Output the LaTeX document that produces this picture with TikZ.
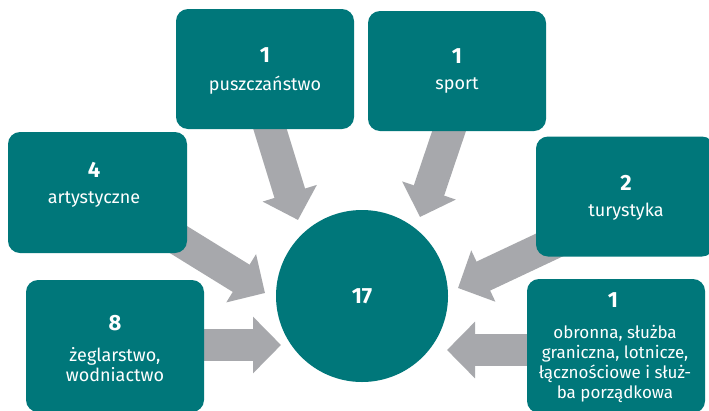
\documentclass[tikz,border=0pt]{standalone}
\usepackage{fontspec}
\setmainfont{Fira Sans}
\usetikzlibrary{arrows.meta}
\definecolor{tealbox}{HTML}{00777A}
\definecolor{arrowgray}{HTML}{A7A8AC}
\begin{document}
\begin{tikzpicture}[x=1pt,y=-1pt,
  box/.style={fill=tealbox, rounded corners=12pt, inner sep=0pt, minimum width=178pt, minimum height=120pt},
  bigarrow/.style={draw=arrowgray, line width=32pt, -{Triangle[width=55pt,length=28pt]}},
  num/.style={text=white, font=\fontsize{22}{24}\selectfont\bfseries},
  lab/.style={text=white, font=\fontsize{18}{20}\selectfont, align=center},
  labsmall/.style={text=white, font=\fontsize{17}{20}\selectfont, align=center}]
\clip (0,0) rectangle (709,410);
\fill[white] (0,0) rectangle (709,410);
% arrow ends
\coordinate (s1) at (254,77);   \coordinate (t1) at (298,220);
\coordinate (s2) at (468,75);   \coordinate (t2) at (420,217);
\coordinate (s3) at (137,214);  \coordinate (t3) at (265,293);
\coordinate (s4) at (594,224);  \coordinate (t4) at (458,288);
\coordinate (s5) at (150,345);  \coordinate (t5) at (281,345);
\coordinate (s6) at (580,350);  \coordinate (t6) at (447,350);
\foreach \i in {1,...,6} \draw[bigarrow] (s\i) -- (t\i);
% boxes
\node[box] (pusz) at (265,69) {};
\node[box] (sport) at (457,71) {};
\node[box, minimum width=179pt, minimum height=121pt] (arty) at (97.5,192.5) {};
\node[box] (tury) at (625,196.5) {};
\node[box, minimum height=132pt] (zegl) at (115,346) {};
\node[box, minimum height=134pt] (obr) at (616,346) {};
\node[circle, fill=tealbox, minimum size=172pt, inner sep=0pt, num] (center) at (362,296) {17};
% texts
\node[num] (puszn) at (265,55) {1};
\node[lab] (puszl) at (265,85) {puszczańs\-two};
\node[num] (sportn) at (457,56) {1};
\node[lab] (sportl) at (457,86) {sport};
\node[num] (artyn) at (94,170) {4};
\node[lab] (artyl) at (94,199) {artystyczne};
\node[num] (turyn) at (626,183) {2};
\node[lab] (turyl) at (626,212) {turystyka};
\node[num] (zegln) at (115,323) {8};
\node[lab] (zegll) at (115,365) {żeglarstwo,\\wodniactwo};
\node[num] (obrn) at (613,300) {1};
\node[labsmall] (obrl) at (615,364) {obronna, służba\\graniczna, lotnicze,\\łącznościowe i służ-\\ba porządkowa};
\end{tikzpicture}
\end{document}
